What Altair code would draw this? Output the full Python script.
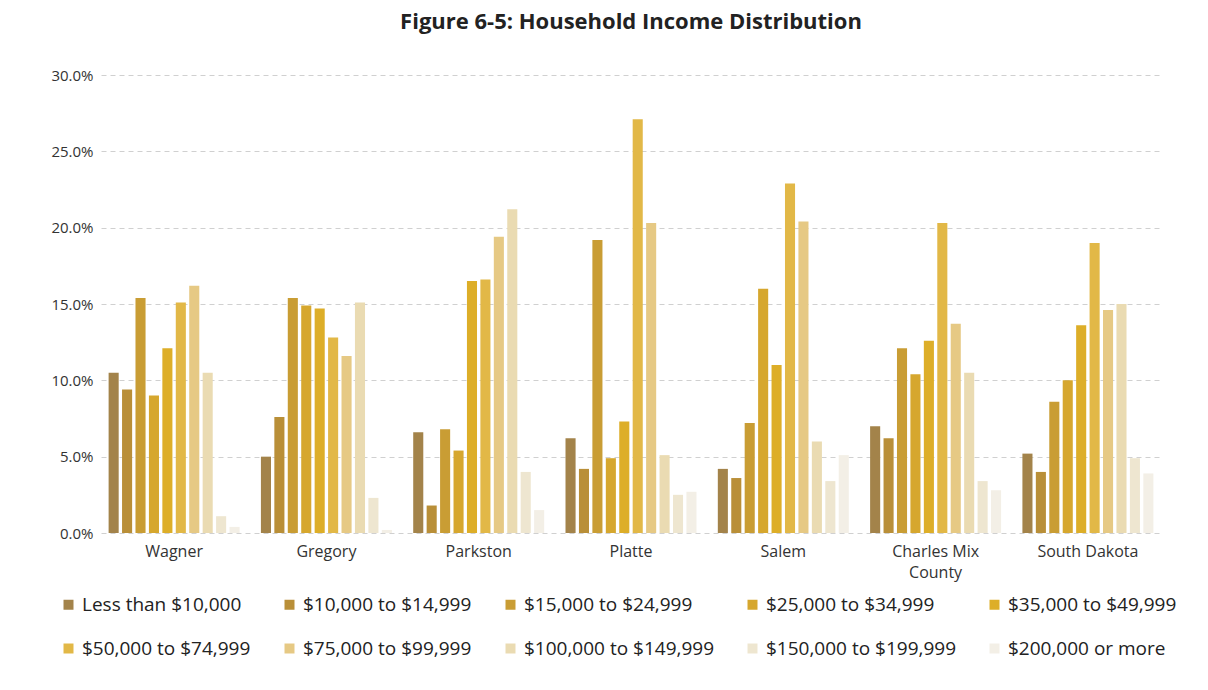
import altair as alt
import pandas as pd

places = ["Wagner", "Gregory", "Parkston", "Platte", "Salem", "Charles Mix County", "South Dakota"]
brackets = [
    "Less than $10,000", "$10,000 to $14,999", "$15,000 to $24,999", "$25,000 to $34,999",
    "$35,000 to $49,999", "$50,000 to $74,999", "$75,000 to $99,999", "$100,000 to $149,999",
    "$150,000 to $199,999", "$200,000 or more",
]
colors = ["#A3834A", "#B98F38", "#C99D34", "#D6A72E", "#DDAE28", "#E2B847",
          "#E6C984", "#EADBB2", "#EEE6D0", "#F3EFE6"]

wagner = [10.5, 9.4, 15.4, 9.0, 12.1, 15.1, 16.2, 10.5, 1.1, 0.4]
gregory = [5.0, 7.6, 15.4, 14.9, 14.7, 12.8, 11.6, 15.1, 2.3, 0.2]
parkston = [6.6, 1.8, 6.8, 5.4, 16.5, 16.6, 19.4, 21.2, 4.0, 1.5]
platte = [6.2, 4.2, 19.2, 4.9, 7.3, 27.1, 20.3, 5.1, 2.5, 2.7]
salem = [4.2, 3.6, 7.2, 16.0, 11.0, 22.9, 20.4, 6.0, 3.4, 5.1]
charles_mix = [7.0, 6.2, 12.1, 10.4, 12.6, 20.3, 13.7, 10.5, 3.4, 2.8]
south_dakota = [5.2, 4.0, 8.6, 10.0, 13.6, 19.0, 14.6, 15.0, 4.9, 3.9]

series = [wagner, gregory, parkston, platte, salem, charles_mix, south_dakota]
rows = []
for p, vals in zip(places, series):
    for i, (b, v) in enumerate(zip(brackets, vals)):
        rows.append({"place": p, "bracket": b, "order": i, "pct": v})
df = pd.DataFrame(rows)

FONT = "Open Sans"

chart = alt.Chart(df).mark_bar().encode(
    x=alt.X("place:N", sort=places, title=None,
            scale=alt.Scale(paddingInner=0.14, paddingOuter=0.05),
            axis=alt.Axis(labelAngle=0, labelFontSize=16, labelColor="#333",
                          labelFont=FONT, domain=False, ticks=False, labelPadding=10,
                          labelLineHeight=21,
                          labelExpr="datum.label == 'Charles Mix County' ? ['Charles Mix', 'County'] : datum.label")),
    xOffset=alt.XOffset("bracket:N", sort=brackets, scale=alt.Scale(paddingInner=0.25)),
    y=alt.Y("pct:Q", title=None,
            scale=alt.Scale(domain=[0, 30]),
            axis=alt.Axis(values=[0, 5, 10, 15, 20, 25, 30], labelExpr="format(datum.value, '.1f') + '%'",
                          labelFontSize=15, labelColor="#333", labelFont=FONT, domain=False, ticks=False,
                          labelPadding=8, gridColor="#d0d0d0", gridDash=[5, 4], gridWidth=1)),
    color=alt.Color("bracket:N", sort=brackets,
                    scale=alt.Scale(domain=brackets, range=colors),
                    legend=alt.Legend(title=None, orient="none", direction="horizontal",
                                      legendX=-42, legendY=520,
                                      columns=5, symbolType="square",
                                      symbolSize=100, labelFontSize=19, labelFont=FONT, labelColor="#222",
                                      labelLimit=280, columnPadding=29, rowPadding=24,
                                      symbolStrokeWidth=0)),
).properties(
    width=1060,
    height=458,
    title=alt.TitleParams("Figure 6-5: Household Income Distribution", fontSize=22, font=FONT,
                          fontWeight="bold", color="#222", anchor="middle", offset=34),
).configure(padding={"left": 50, "top": 11, "right": 10, "bottom": 5}).configure_view(stroke=None)

chart.save("out.html", embed_options={"renderer": "svg", "actions": False})
